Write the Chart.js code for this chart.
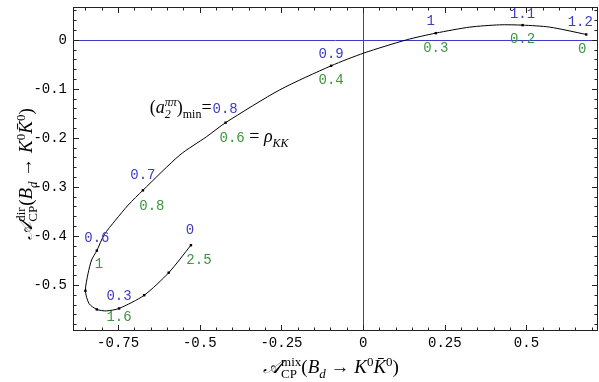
<!DOCTYPE html>
<html>
<head>
<meta charset="utf-8">
<script src="https://cdn.jsdelivr.net/npm/chart.js@4"></script>
<style>
  body { margin: 0; background: #fff; }
  canvas { display: block; }
</style>
</head>
<body>
<canvas id="chart" width="599" height="382"></canvas>
<script>
// curve, starting at the a2 = 0 end
const curveX = [-0.527, -0.595, -0.670, -0.747, -0.786, -0.815, -0.839, -0.850, -0.842, -0.831, -0.815,
                -0.793, -0.758, -0.719, -0.674, -0.561, -0.479, -0.421, -0.255, -0.098, 0.002, 0.133,
                0.2225, 0.327, 0.418, 0.488, 0.571, 0.683];
const curveY = [-0.419, -0.475, -0.521, -0.548, -0.553, -0.550, -0.538, -0.512, -0.477, -0.449, -0.430,
                -0.398, -0.368, -0.337, -0.307, -0.235, -0.1975, -0.169, -0.102, -0.053, -0.027, 0.0,
                0.0137, 0.026, 0.0306, 0.030, 0.026, 0.011];

// marked points, a2 = 0, 0.1, ... 1.2
const dotX = [-0.527, -0.595, -0.670, -0.747, -0.815, -0.850, -0.815, -0.674, -0.421, -0.098, 0.2225, 0.488, 0.683];
const dotY = [-0.419, -0.475, -0.521, -0.548, -0.550, -0.512, -0.430, -0.307, -0.169, -0.053, 0.0137, 0.030, 0.011];
const a2Text  = ['0', '', '', '0.3', '', '', '0.6', '0.7', '', '0.9', '1', '1.1', '1.2'];
const rhoText = ['2.5', '', '', '1.6', '', '', '1', '0.8', '', '0.4', '0.3', '0.2', '0'];

const xTickVals = [-0.75, -0.5, -0.25, 0, 0.25, 0.5];
const yTickVals = [-0.5, -0.4, -0.3, -0.2, -0.1, 0];

// label offsets in px from each dot
const a2Off  = [[-1,-15],null,null,[0,-12],null,null,[0,-12],[0,-15],null,[0,-12],[-5,-12],[0,-11],[-6,-12]];
const rhoOff = [[8,15],null,null,[0,9],null,null,[2,14],[9,16],null,[0,14],[0,15],[0,14],[-4,15]];

const BLUE = '#3c3cc4';
const GREEN = '#3c963c';
const MONO = '"Liberation Mono", "DejaVu Sans Mono", monospace';
const SERIF = '"Liberation Serif", "DejaVu Serif", serif';

function richWidth(ctx, parts) {
    let w = 0;
    parts.forEach(p => {
        ctx.font = p.font;
        if (p.t !== undefined) w += ctx.measureText(p.t).width;
        else w += Math.max(ctx.measureText(p.sup || '').width, ctx.measureText(p.sub || '').width);
    });
    return w;
}

function drawRich(ctx, parts, x, y) {
    ctx.textAlign = 'left';
    ctx.textBaseline = 'alphabetic';
    parts.forEach(p => {
        ctx.font = p.font;
        ctx.fillStyle = p.color || '#000';
        if (p.t !== undefined) {
            ctx.fillText(p.t, x, y);
            x += ctx.measureText(p.t).width;
        } else {
            if (p.sup) ctx.fillText(p.sup, x, y - 7);
            if (p.sub) ctx.fillText(p.sub, x, y + 5);
            x += Math.max(ctx.measureText(p.sup || '').width, ctx.measureText(p.sub || '').width);
        }
    });
}

function titleParts(kind) {
    const big = '19px ' + SERIF, bigI = 'italic 19px ' + SERIF;
    const sm = '13px ' + SERIF, smI = 'italic 13px ' + SERIF;
    return [
        {t: '𝒜', font: bigI},
        {sup: kind, sub: 'CP', font: sm},
        {t: '(', font: big},
        {t: 'B', font: bigI},
        {sub: 'd', font: smI},
        {t: ' → ', font: big},
        {t: 'K', font: bigI},
        {sup: '0', font: sm},
        {t: 'K\u0304', font: bigI},
        {sup: '0', font: sm},
        {t: ')', font: big}
    ];
}

const decor = {
    id: 'decor',
    beforeDatasetsDraw(chart) {
        const {ctx, chartArea: a, scales: {x, y}} = chart;
        ctx.save();
        ctx.strokeStyle = BLUE;
        ctx.lineWidth = 1;
        const x0 = Math.round(x.getPixelForValue(0)) + 0.5;
        const y0 = Math.round(y.getPixelForValue(0)) + 0.5;
        ctx.beginPath();
        ctx.moveTo(a.left, y0); ctx.lineTo(a.right, y0);
        ctx.moveTo(x0, a.top); ctx.lineTo(x0, a.bottom);
        ctx.stroke();
        ctx.restore();
    },
    afterDraw(chart) {
        const {ctx, chartArea: a, scales: {x, y}} = chart;
        ctx.save();
        // frame
        ctx.strokeStyle = '#222';
        ctx.lineWidth = 1;
        ctx.strokeRect(a.left + 0.5, a.top + 0.5, a.right - a.left - 1, a.bottom - a.top - 1);

        // ticks on all four sides, pointing inward
        ctx.beginPath();
        for (let i = -18; i <= 14; i++) {
            const v = i * 0.05;
            if (v < x.min || v > x.max) continue;
            const len = (i % 5 === 0) ? 6 : 3.5;
            const px = Math.round(x.getPixelForValue(v)) + 0.5;
            ctx.moveTo(px, a.bottom); ctx.lineTo(px, a.bottom - len);
            ctx.moveTo(px, a.top); ctx.lineTo(px, a.top + len);
        }
        for (let i = -30; i <= 4; i++) {
            const v = i * 0.02;
            if (v < y.min || v > y.max) continue;
            const len = (i % 5 === 0) ? 6 : 3.5;
            const py = Math.round(y.getPixelForValue(v)) + 0.5;
            ctx.moveTo(a.left, py); ctx.lineTo(a.left + len, py);
            ctx.moveTo(a.right, py); ctx.lineTo(a.right - len, py);
        }
        ctx.stroke();

        // point labels
        ctx.font = '14px ' + MONO;
        ctx.textAlign = 'center';
        ctx.textBaseline = 'middle';
        dotX.forEach((dx, i) => {
            const px = x.getPixelForValue(dx), py = y.getPixelForValue(dotY[i]);
            if (a2Text[i]) {
                ctx.fillStyle = BLUE;
                ctx.fillText(a2Text[i], px + a2Off[i][0], py + a2Off[i][1]);
            }
            if (rhoText[i]) {
                ctx.fillStyle = GREEN;
                ctx.fillText(rhoText[i], px + rhoOff[i][0], py + rhoOff[i][1]);
            }
        });

        // annotation at a2 = 0.8
        const ax = x.getPixelForValue(dotX[8]), ay = y.getPixelForValue(dotY[8]);
        const head = [
            {t: '(', font: '18px ' + SERIF},
            {t: 'a', font: 'italic 18px ' + SERIF},
            {sup: 'ππ', sub: '2', font: 'italic 12px ' + SERIF},
            {t: ')', font: '18px ' + SERIF},
            {sub: 'min', font: '12px ' + SERIF},
            {t: '=', font: '18px ' + SERIF}
        ];
        const hw = richWidth(ctx, head);
        drawRich(ctx, head, ax - 14 - hw, ay - 10);
        drawRich(ctx, [{t: '0.8', font: '14px ' + MONO, color: BLUE}], ax - 13, ay - 10);
        drawRich(ctx, [
            {t: '0.6', font: '14px ' + MONO, color: GREEN},
            {t: ' = ', font: '18px ' + SERIF},
            {t: 'ρ', font: 'italic 18px ' + SERIF},
            {sub: 'KK', font: 'italic 12px ' + SERIF}
        ], ax - 6, ay + 19);

        // axis titles
        const xt = titleParts('mix');
        drawRich(ctx, xt, 331 - richWidth(ctx, xt) / 2, 373);
        const yt = titleParts('dir');
        ctx.translate(32, 174);
        ctx.rotate(-Math.PI / 2);
        drawRich(ctx, yt, -richWidth(ctx, yt) / 2, 0);
        ctx.restore();
    }
};

new Chart(document.getElementById('chart'), {
    type: 'scatter',
    data: {
        datasets: [{
            data: curveX.map((v, i) => ({x: v, y: curveY[i]})),
            showLine: true,
            borderColor: '#000',
            borderWidth: 1,
            pointRadius: 0,
            tension: 0.25
        }, {
            data: dotX.map((v, i) => ({x: v, y: dotY[i]})),
            pointStyle: 'rect',
            pointRadius: 1.7,
            backgroundColor: '#000',
            borderWidth: 0
        }]
    },
    options: {
        responsive: false,
        animation: false,
        devicePixelRatio: 1,
        layout: {autoPadding: false, padding: {top: 7, right: 1, left: 0, bottom: 0}},
        plugins: {legend: {display: false}, tooltip: {enabled: false}},
        scales: {
            x: {
                type: 'linear',
                min: -0.888,
                max: 0.719,
                grid: {display: false, drawTicks: false, tickLength: 0},
                border: {display: false},
                afterBuildTicks: s => { s.ticks = xTickVals.map(v => ({value: v})); },
                afterFit: s => { s.height = 51; s.paddingLeft = 0; s.paddingRight = 0; },
                ticks: {
                    font: {family: MONO, size: 14},
                    color: '#000',
                    padding: 4,
                    maxRotation: 0,
                    callback: v => String(v)
                }
            },
            y: {
                min: -0.594,
                max: 0.067,
                grid: {display: false, drawTicks: false, tickLength: 0},
                border: {display: false},
                afterBuildTicks: s => { s.ticks = yTickVals.map(v => ({value: v})); },
                afterFit: s => { s.width = 73; s.paddingTop = 0; s.paddingBottom = 0; },
                ticks: {
                    font: {family: MONO, size: 14},
                    color: '#000',
                    padding: 6,
                    callback: v => String(v)
                }
            }
        }
    },
    plugins: [decor]
});
</script>
</body>
</html>
